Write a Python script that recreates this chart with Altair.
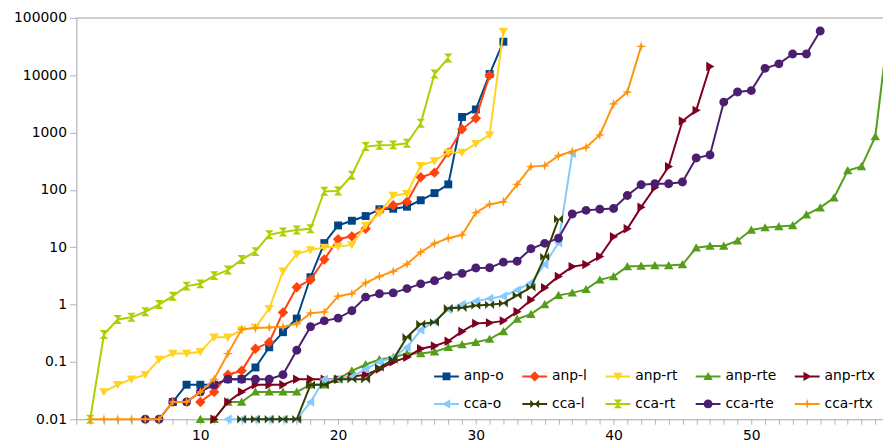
import altair as alt
import pandas as pd

series_names = ["anp-o", "anp-l", "anp-rt", "anp-rte", "anp-rtx",
                "cca-o", "cca-l", "cca-rt", "cca-rte", "cca-rtx"]
series_colors = ["#004586", "#ff420e", "#ffd320", "#579d1c", "#7e0021",
                 "#83caff", "#314004", "#aecf00", "#4b1f6f", "#ff950e"]

anp_o_x = list(range(8, 33))
anp_o = [0.02, 0.04, 0.04, 0.04, 0.05, 0.05, 0.08, 0.18, 0.33, 0.57, 3.0, 11.8, 24, 29, 35,
         46, 47, 51, 66, 88, 125, 1870, 2530, 10500, 38500]
anp_l_x = list(range(10, 32))
anp_l = [0.02, 0.03, 0.06, 0.07, 0.17, 0.22, 0.73, 2.0, 2.7, 6.1, 13.8, 15.5, 21, 43, 54, 62,
         166, 200, 450, 1140, 1780, 10000]
anp_rt_x = list(range(3, 33))
anp_rt = [0.03, 0.04, 0.05, 0.06, 0.11, 0.14, 0.14, 0.15, 0.27, 0.27, 0.36, 0.4, 0.85, 3.8,
          7.6, 9, 9.9, 10.3, 11, 24, 39, 80, 86, 265, 320, 450, 450, 640, 910, 58000]
anp_rte_x = list(range(10, 61))
anp_rte = [0.01, 0.01, 0.02, 0.02, 0.03, 0.03, 0.03, 0.03, 0.04, 0.04, 0.05, 0.07, 0.09, 0.11,
           0.12, 0.14, 0.14, 0.15, 0.18, 0.2, 0.22, 0.25, 0.34, 0.56, 0.68, 1.0, 1.45, 1.6,
           1.84, 2.7, 3.1, 4.6, 4.7, 4.8, 4.8, 5.0, 9.8, 10.5, 10.5, 13, 20, 22, 23, 24, 37,
           49, 73, 218, 257, 850, 80000]
anp_rtx_x = list(range(11, 48))
anp_rtx = [0.01, 0.02, 0.03, 0.04, 0.04, 0.04, 0.05, 0.05, 0.05, 0.05, 0.055, 0.06, 0.075,
           0.1, 0.12, 0.17, 0.19, 0.23, 0.34, 0.47, 0.48, 0.52, 0.75, 1.2, 1.96, 3.1, 4.6,
           5.0, 6.9, 15.3, 21, 50, 110, 255, 1590, 2440, 14200]
cca_o_x = list(range(12, 38))
cca_o = [0.01, 0.01, 0.01, 0.01, 0.01, 0.01, 0.02, 0.05, 0.05, 0.055, 0.075, 0.1, 0.12, 0.18,
         0.36, 0.5, 0.83, 1.0, 1.15, 1.28, 1.4, 1.8, 2.4, 5, 12, 430]
cca_l_x = list(range(13, 37))
cca_l = [0.01, 0.01, 0.01, 0.01, 0.01, 0.04, 0.04, 0.05, 0.05, 0.05, 0.08, 0.11, 0.27, 0.46,
         0.49, 0.86, 0.88, 0.96, 0.99, 1.05, 1.45, 2.0, 6.8, 31]
cca_rt_x = list(range(2, 29))
cca_rt = [0.01, 0.3, 0.55, 0.6, 0.75, 1.0, 1.4, 2.1, 2.3, 3.2, 4.0, 6.1, 8.4, 16.5, 18.5, 20,
          21, 95, 96, 180, 570, 600, 610, 650, 1450, 10500, 20000]
cca_rte_x = list(range(6, 56))
cca_rte = [0.01, 0.01, 0.02, 0.02, 0.03, 0.04, 0.05, 0.05, 0.05, 0.05, 0.06, 0.16, 0.41, 0.52,
           0.58, 0.78, 1.35, 1.55, 1.6, 1.9, 2.3, 2.6, 3.2, 3.5, 4.35, 4.4, 5.5, 5.7, 9.4,
           11.7, 14.4, 38, 44, 46, 47.5, 80, 123, 128, 128, 137, 360, 407, 3400, 5100, 5400,
           13200, 15800, 23500, 23500, 59000]
cca_rtx_x = list(range(2, 43))
cca_rtx = [0.01, 0.01, 0.01, 0.01, 0.01, 0.01, 0.02, 0.02, 0.03, 0.05, 0.14, 0.37, 0.39, 0.4,
           0.41, 0.46, 0.71, 0.74, 1.4, 1.55, 2.4, 3.1, 3.8, 5.1, 8.2, 11.7, 14.4, 16.4, 40,
           56, 62, 125, 255, 265, 395, 470, 550, 910, 3160, 5100, 32000]

y_ticks = [0.01, 0.1, 1, 10, 100, 1000, 10000, 100000]

all_x = [anp_o_x, anp_l_x, anp_rt_x, anp_rte_x, anp_rtx_x, cca_o_x, cca_l_x, cca_rt_x, cca_rte_x, cca_rtx_x]
all_y = [anp_o, anp_l, anp_rt, anp_rte, anp_rtx, cca_o, cca_l, cca_rt, cca_rte, cca_rtx]

rows = []
for name, xs, ys in zip(series_names, all_x, all_y):
    for xv, yv in zip(xs, ys):
        rows.append({"series": name, "x": xv, "y": yv})
df = pd.DataFrame(rows)

# marker shapes (unit coords, scaled by sqrt(size)/2)
markers = [
    "M-0.32,-0.32L0.32,-0.32L0.32,0.32L-0.32,0.32Z",
    "M0,-0.42L0.42,0L0,0.42L-0.42,0Z",
    "M-0.38,-0.3L0.38,-0.3L0,0.36Z",
    "M0,-0.36L0.38,0.3L-0.38,0.3Z",
    "M-0.3,-0.38L0.36,0L-0.3,0.38Z",
    "M0.3,-0.38L0.3,0.38L-0.36,0Z",
    "M-0.36,-0.34L0,0L-0.36,0.34ZM0.36,-0.34L0.36,0.34L0,0Z",
    "M-0.34,-0.36L0.34,-0.36L0,0ZM0,0L0.34,0.36L-0.34,0.36Z",
    "M0.36,0A0.36,0.36,0,1,1,-0.36,0A0.36,0.36,0,1,1,0.36,0Z",
    "M0,-0.42L0.09,-0.09L0.42,0L0.09,0.09L0,0.42L-0.09,0.09L-0.42,0L-0.09,-0.09Z",
]
line_path = "M-1,-0.08L1,-0.08L1,0.08L-1,0.08Z"
legend_shapes = [line_path + m for m in markers]

xscale = alt.Scale(domain=[1, 59.56], nice=False, zero=False)
yscale = alt.Scale(type="log", domain=[0.01, 100000], nice=False)
axis_common = dict(domainColor="#b3b3b3", tickColor="#b3b3b3", labelColor="black",
                   labelFont="DejaVu Sans", labelFontSize=14, grid=False, title=None)
xaxis = alt.Axis(values=list(range(1, 60)), labelExpr="datum.value % 10 == 0 ? datum.label : ''",
                 tickSize=5, labelPadding=4, labelOverlap=False, labelFlush=False, **axis_common)
yaxis = alt.Axis(values=y_ticks, format="~g", tickSize=7, labelPadding=3, labelOverlap=False,
                 **axis_common)
xenc = alt.X("x:Q", scale=xscale, axis=xaxis)
yenc = alt.Y("y:Q", scale=yscale, axis=yaxis)

layers = []
top_rule = alt.Chart(pd.DataFrame({"y": [100000]})).mark_rule(color="#b3b3b3", strokeWidth=1).encode(y=yenc)
layers.append(top_rule)

for name, color, shp in zip(series_names, series_colors, markers):
    sub = alt.Chart(df).transform_filter(alt.datum.series == name)
    layers.append(sub.mark_line(color=color, strokeWidth=2).encode(x=xenc, y=yenc, order="x:Q"))
    layers.append(sub.mark_point(shape=shp, filled=True, size=625, color=color, opacity=1,
                                 strokeWidth=0).encode(x=xenc, y=yenc))

leg = dict(title=None, orient="none", legendX=361, legendY=349, direction="horizontal",
           columns=5, symbolSize=625, symbolOpacity=1, symbolStrokeWidth=0,
           labelFont="DejaVu Sans", labelFontSize=14, labelColor="black",
           columnPadding=18, rowPadding=8, labelOffset=5, padding=0)
legend_layer = alt.Chart(df).mark_point(filled=True, size=0, opacity=0).encode(
    x=xenc, y=yenc,
    color=alt.Color("series:N", scale=alt.Scale(domain=series_names, range=series_colors),
                    legend=alt.Legend(**leg)),
    shape=alt.Shape("series:N", scale=alt.Scale(domain=series_names, range=legend_shapes),
                    legend=alt.Legend(**leg)),
)
layers.append(legend_layer)

chart = alt.layer(*layers).properties(
    width=814, height=405,
    padding={"left": 69, "top": 8, "right": 0, "bottom": 26},
    autosize=alt.AutoSizeParams(type="none"),
).configure_view(stroke=None).configure(background="white")

chart.save("out.html", embed_options={"renderer": "svg", "actions": False})
